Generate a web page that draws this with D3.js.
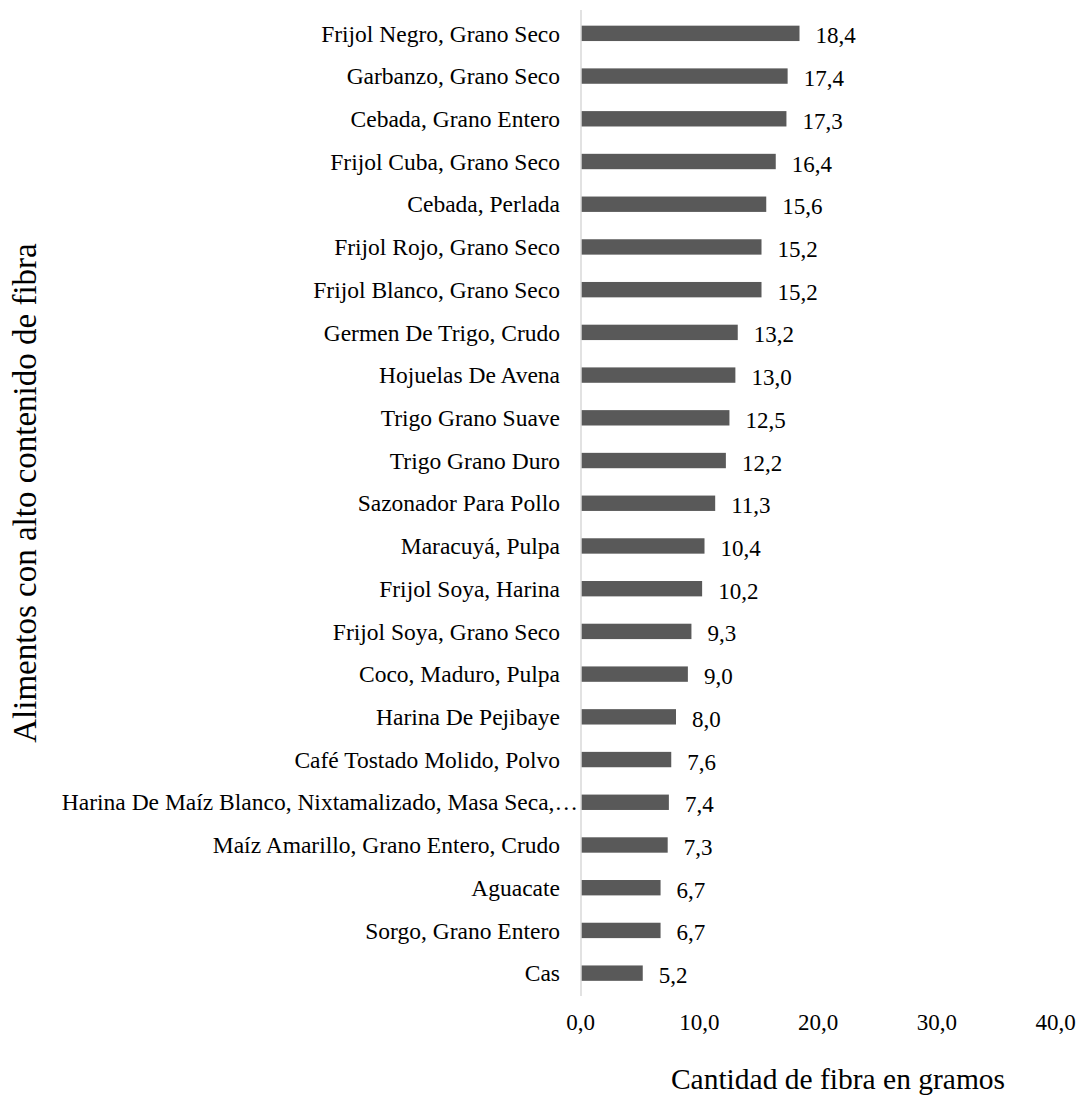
<!DOCTYPE html>
<html><head><meta charset="utf-8">
<script src="https://cdn.jsdelivr.net/npm/d3@7"></script>
<style>body{margin:0;background:#fff;} svg{display:block;}</style>
</head><body>
<script>
const categories = ["Frijol Negro, Grano Seco","Garbanzo, Grano Seco","Cebada, Grano Entero","Frijol Cuba, Grano Seco","Cebada, Perlada","Frijol Rojo, Grano Seco","Frijol Blanco, Grano Seco","Germen De Trigo, Crudo","Hojuelas De Avena","Trigo Grano Suave","Trigo Grano Duro","Sazonador Para Pollo","Maracuyá, Pulpa","Frijol Soya, Harina","Frijol Soya, Grano Seco","Coco, Maduro, Pulpa","Harina De Pejibaye","Café Tostado Molido, Polvo","Harina De Maíz Blanco, Nixtamalizado, Masa Seca,…","Maíz Amarillo, Grano Entero, Crudo","Aguacate","Sorgo, Grano Entero","Cas"];
const values = [18.4,17.4,17.3,16.4,15.6,15.2,15.2,13.2,13.0,12.5,12.2,11.3,10.4,10.2,9.3,9.0,8.0,7.6,7.4,7.3,6.7,6.7,5.2];
const xTicks = [0,10,20,30,40];
const xTitle = "Cantidad de fibra en gramos";
const yTitle = "Alimentos con alto contenido de fibra";

const W = 1086, H = 1101;
const svg = d3.select("body").append("svg").attr("width", W).attr("height", H);
const font = "'Liberation Serif','Times New Roman',serif";
const fmt = v => v.toFixed(1).replace(".", ",");

const x = d3.scaleLinear().domain([0, 40]).range([581, 1056]);
const y = d3.scaleBand().domain(categories).range([12, 994.5]).paddingInner(0.64).paddingOuter(0.32);

// bars
svg.selectAll("rect.bar").data(values).join("rect")
  .attr("class","bar")
  .attr("x", x(0))
  .attr("y", (d,i) => y(categories[i]))
  .attr("width", d => x(d) - x(0))
  .attr("height", y.bandwidth())
  .attr("fill", "#595959");

// axis line
svg.append("line").attr("x1", x(0)).attr("x2", x(0)).attr("y1", 10).attr("y2", 996)
  .attr("stroke", "#d9d9d9").attr("stroke-width", 1.5);

// category labels (truncated label overflows toward the axis, as in the original)
svg.selectAll("text.cat").data(categories).join("text")
  .attr("class","cat")
  .attr("x", d => d.endsWith("…") ? 578 : 560)
  .attr("y", d => y(d) + y.bandwidth()/2)
  .attr("dy", "0.35em")
  .attr("text-anchor", "end")
  .attr("font-family", font).attr("font-size", 23.5).attr("fill", "#000")
  .text(d => d);

// value labels
svg.selectAll("text.val").data(values).join("text")
  .attr("class","val")
  .attr("x", d => x(d) + 16)
  .attr("y", (d,i) => y(categories[i]) + y.bandwidth()/2 + 2)
  .attr("dy", "0.35em")
  .attr("font-family", font).attr("font-size", 23).attr("fill", "#000")
  .text(d => fmt(d));

// x tick labels
const xAxis = d3.axisBottom(x).tickValues(xTicks).tickFormat(fmt).tickSize(0).tickPadding(0);
const gx = svg.append("g").attr("transform", "translate(-1,1030)").call(xAxis);
gx.select(".domain").remove();
gx.selectAll("text").attr("dy", 0).attr("y", 0)
  .attr("font-family", font).attr("font-size", 23).attr("fill", "#000");

// axis titles
svg.append("text").attr("x", 838).attr("y", 1089).attr("text-anchor","middle")
  .attr("font-family", font).attr("font-size", 29.5).attr("fill","#000").text(xTitle);
svg.append("text").attr("transform", "translate(36,493) rotate(-90)").attr("text-anchor","middle")
  .attr("font-family", font).attr("font-size", 33).attr("fill","#000").text(yTitle);
</script>
</body></html>
